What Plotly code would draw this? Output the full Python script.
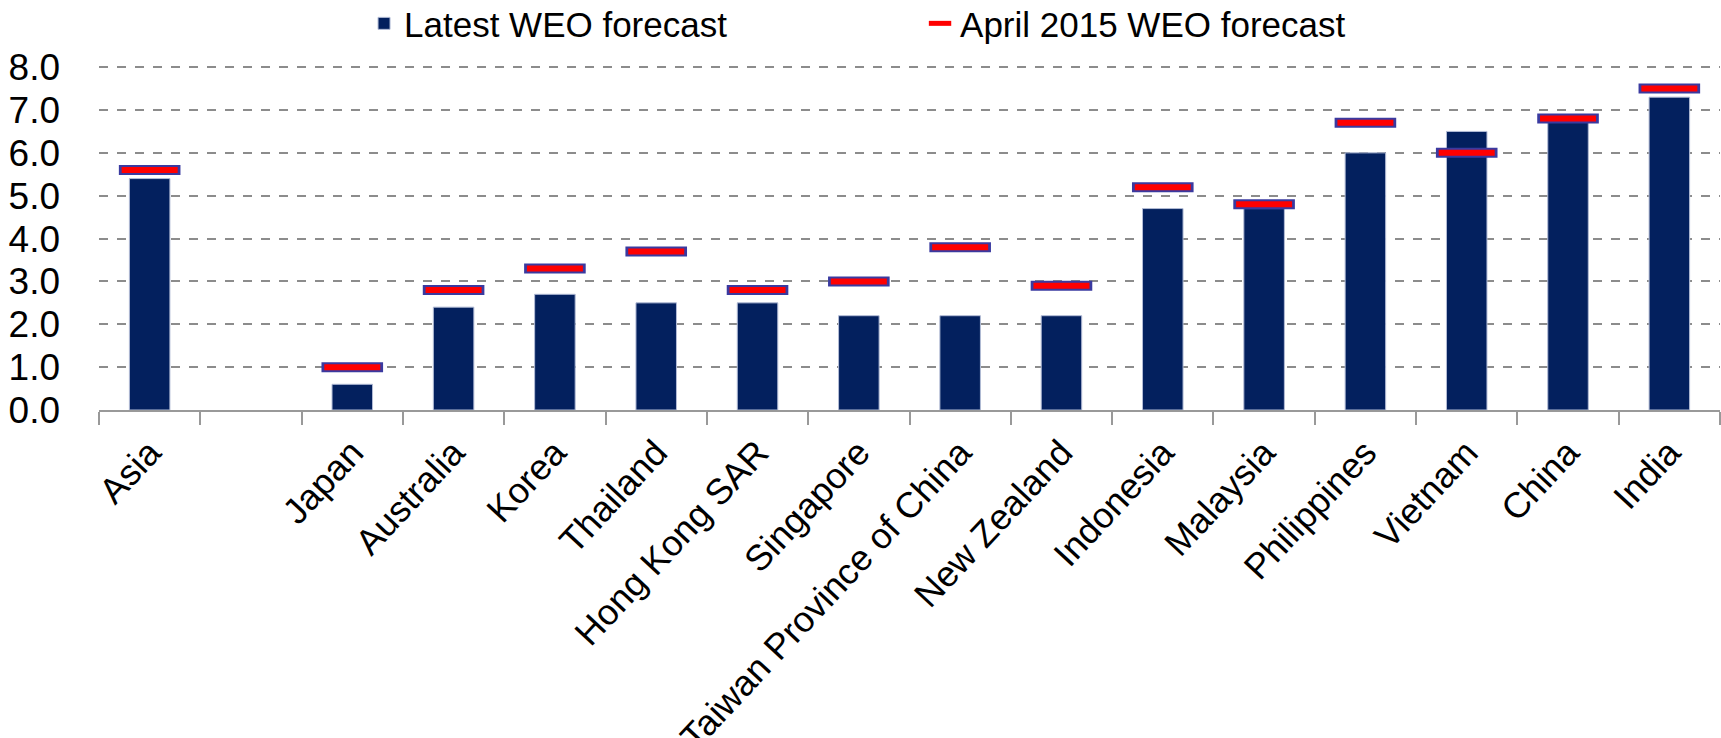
import plotly.graph_objects as go

# Real GDP growth forecasts, 2015 (percent)
categories = ["Asia", " ", "Japan", "Australia", "Korea", "Thailand", "Hong Kong SAR",
              "Singapore", "Taiwan Province of China", "New Zealand", "Indonesia",
              "Malaysia", "Philippines", "Vietnam", "China", "India"]
latest_weo = [5.4, None, 0.6, 2.4, 2.7, 2.5, 2.5, 2.2, 2.2, 2.2, 4.7, 4.7, 6.0, 6.5, 6.8, 7.3]
april_2015_weo = [5.6, None, 1.0, 2.8, 3.3, 3.7, 2.8, 3.0, 3.8, 2.9, 5.2, 4.8, 6.7, 6.0, 6.8, 7.5]
y_ticks = [0, 1, 2, 3, 4, 5, 6, 7, 8]

FONT = "Liberation Sans, Arial, sans-serif"
NAVY = "#03205e"
RED = "#ff0000"
OUTLINE = "#3a3aa0"

fig = go.Figure()

fig.add_trace(go.Bar(
    x=categories, y=latest_weo, name="Latest WEO forecast",
    width=0.4, marker=dict(color=NAVY, line=dict(color="#b3bcd6", width=1)),
))

# April forecast drawn as outlined horizontal dashes
fig.add_trace(go.Scatter(
    x=categories, y=april_2015_weo, mode="markers", showlegend=False, hoverinfo="skip",
    marker=dict(symbol="line-ew", size=44, line=dict(color=OUTLINE, width=10)),
))
fig.add_trace(go.Scatter(
    x=categories, y=april_2015_weo, mode="markers", name="April 2015 WEO forecast",
    marker=dict(symbol="line-ew", size=40, line=dict(color=RED, width=6)),
))

fig.update_layout(
    width=1721, height=738,
    margin=dict(l=99, r=1, t=65, b=328, autoexpand=False),
    plot_bgcolor="white", paper_bgcolor="white",
    font=dict(family=FONT, size=36, color="black"),
    showlegend=True,
    legend=dict(orientation="h", x=0.1635, xanchor="left", y=1.12, yanchor="middle",
                font=dict(size=35), entrywidth=511, entrywidthmode="pixels",
                bgcolor="rgba(0,0,0,0)"),
    bargap=0.6,
)

fig.update_yaxes(
    range=[0, 8.05], tickvals=y_ticks, tickformat=".1f",
    showgrid=True, gridcolor="#8c8c8c", gridwidth=1.5, griddash="dash",
    zeroline=False, showline=False, ticks="", ticklabelstandoff=38,
    tickfont=dict(size=37), automargin=False,
)
fig.update_xaxes(
    type="category", range=[-0.5, 15.5], tickangle=-47, tickson="boundaries",
    ticks="outside", ticklen=13, tickcolor="#999999", tickwidth=2,
    showline=True, linecolor="#999999", linewidth=2, ticklabelstandoff=5,
    showgrid=False, tickfont=dict(size=36), automargin=False,
)

fig.write_html("out.html")
